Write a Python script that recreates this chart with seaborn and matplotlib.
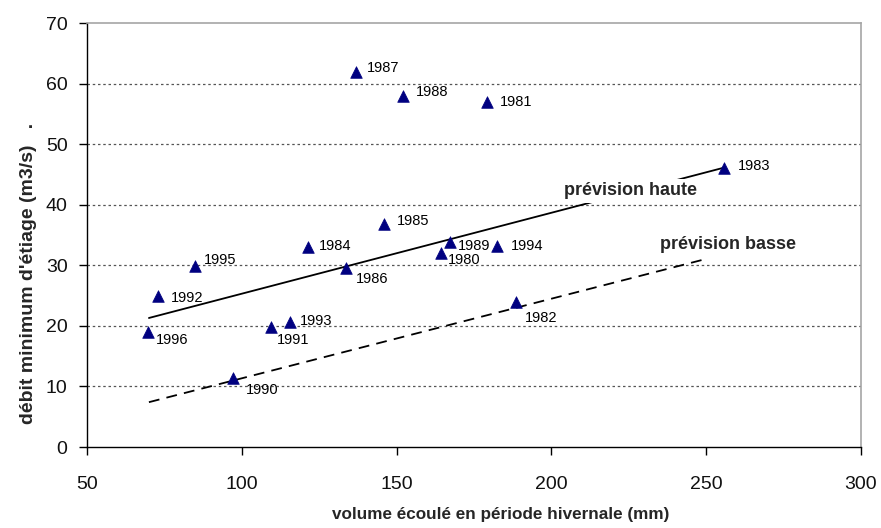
import matplotlib
matplotlib.use("Agg")
import matplotlib.pyplot as plt
import seaborn as sns
import pandas as pd

# Observed years: winter runoff volume (mm) vs. minimum low-flow discharge (m3/s)
years = [1980, 1981, 1982, 1983, 1984, 1985, 1986, 1987, 1988,
         1989, 1990, 1991, 1992, 1993, 1994, 1995, 1996]
volume = [164.3, 179.2, 188.6, 255.6, 121.4, 145.9, 133.7, 136.9, 152.1,
          167.2, 97.2, 109.4, 72.9, 115.6, 182.4, 84.9, 69.7]
debit = [32.0, 57.0, 23.9, 46.1, 33.0, 36.8, 29.5, 61.9, 58.0,
         33.8, 11.4, 19.8, 24.9, 20.6, 33.2, 29.9, 19.0]

# Forecast envelopes
haute_x = [70, 255.6]
haute_y = [21.3, 46.1]
basse_x = [70, 249.6]
basse_y = [7.4, 31.0]

# Label offsets (points) for each year annotation
label_offsets = {
    1980: (5, -5), 1981: (9, 0), 1982: (6, -11), 1983: (10, 1),
    1984: (8, 1), 1985: (9, 2), 1986: (7, -8), 1987: (8, 3),
    1988: (9, 3), 1989: (6, -3), 1990: (9, -9), 1991: (4, -9),
    1992: (9, -1), 1993: (7, 1), 1994: (10, 0), 1995: (6, 4),
    1996: (6, -6),
}

sns.set_style("white")
plt.rcParams["font.family"] = ["Liberation Sans", "DejaVu Sans"]

fig = plt.figure(figsize=(8.81, 5.28), dpi=100)
ax = fig.add_axes([87 / 881, 1 - 447 / 528, (861 - 87) / 881, (447 - 23) / 528])

pts = pd.DataFrame({"volume": volume, "debit": debit, "annee": years})
haute = pd.DataFrame({"x": haute_x, "y": haute_y})
basse = pd.DataFrame({"x": basse_x, "y": basse_y})

# horizontal grid
for gy in range(10, 70, 10):
    ax.axhline(gy, color="#555555", lw=0.9, ls=(0, (2, 2.2)), zorder=1)

sns.lineplot(data=haute, x="x", y="y", ax=ax, color="black", lw=1.3,
             zorder=3, sort=False)
sns.lineplot(data=basse, x="x", y="y", ax=ax, color="black", lw=1.3,
             zorder=3, sort=False, dashes=False, linestyle=(0, (6, 4)))

sns.scatterplot(data=pts, x="volume", y="debit", ax=ax, marker="^", s=70,
                color="#000080", edgecolor="#000080", linewidth=0.5, zorder=5)

for yr, vx, vy in zip(years, volume, debit):
    dx, dy = label_offsets[yr]
    ax.annotate(str(yr), (vx, vy), xytext=(dx, dy), textcoords="offset points",
                ha="left", va="center", fontsize=10.5, color="black", zorder=6)

ax.text(225.6, 42.3, "prévision haute", fontsize=13, fontweight="bold",
        ha="center", va="center", zorder=4,
        bbox=dict(facecolor="white", edgecolor="none", pad=2.5))
ax.text(257.0, 33.4, "prévision basse", fontsize=13, fontweight="bold",
        ha="center", va="center", zorder=4)

ax.set_xlim(50, 300)
ax.set_ylim(0, 70)
ax.set_xticks(range(50, 301, 50))
ax.set_yticks(range(0, 71, 10))
ax.tick_params(axis="both", which="major", direction="out", length=6,
               width=1, color="black", labelsize=14, labelcolor="#111111",
               left=True, bottom=True, pad=8)
ax.tick_params(axis="x", pad=15)

for side in ("left", "bottom"):
    ax.spines[side].set_color("black")
    ax.spines[side].set_linewidth(1)
for side in ("top", "right"):
    ax.spines[side].set_color("#a6a6a6")
    ax.spines[side].set_linewidth(1.2)

ax.set_xlabel("volume écoulé en période hivernale (mm)", fontsize=12.3,
              fontweight="bold")
ax.set_ylabel("débit minimum d'étiage (m3/s)   .", fontsize=14,
              fontweight="bold")
ax.xaxis.set_label_coords(0.534, -0.1415)
ax.yaxis.set_label_coords(-0.064, 0.41)

fig.savefig("out.png", dpi=100, facecolor="white")
